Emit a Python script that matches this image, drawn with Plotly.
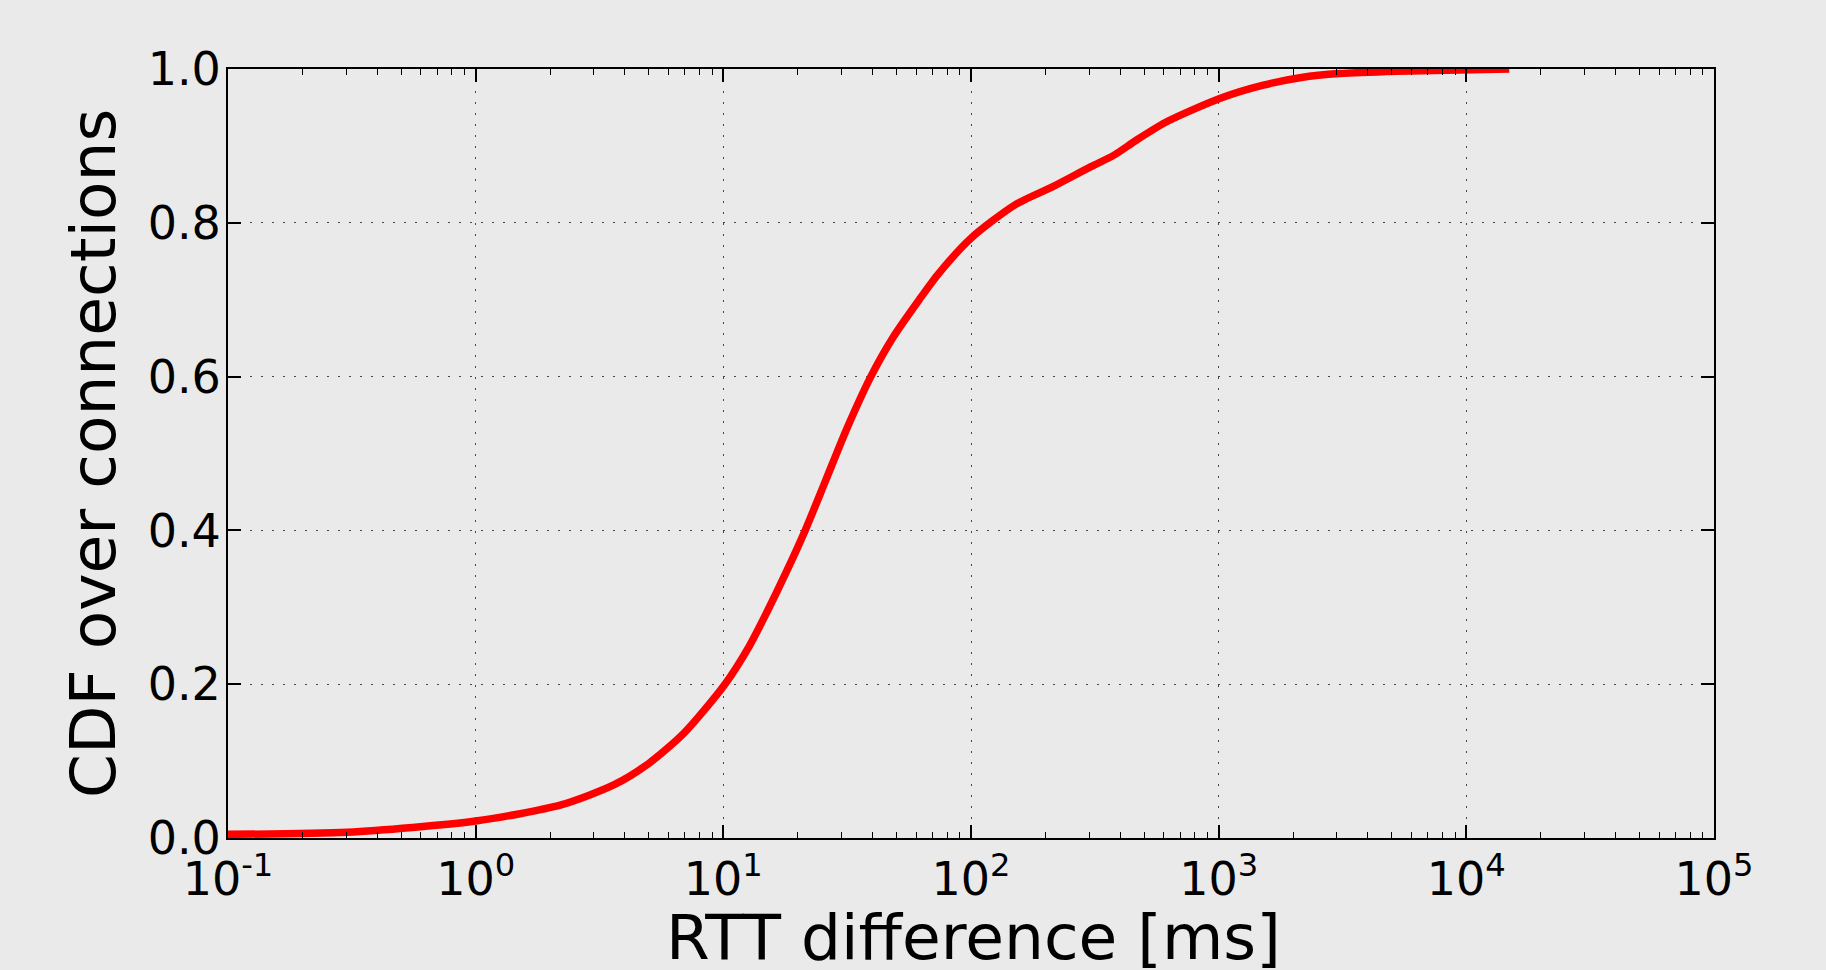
import plotly.graph_objects as go

# Data (CDF of RTT difference)
rtt_ms = [0.1, 0.303, 1.0, 2.21, 3.61, 5.0, 6.92, 10.1, 12.7, 14.9,
          17.9, 21.4, 25.9, 31.3, 39.4, 48.2, 61.8, 73.6, 100, 150, 214, 305,
          378, 468, 622, 1016, 1514, 2158, 3083, 5248, 14900]
cdf = [0.0048, 0.0074, 0.022, 0.043, 0.069, 0.097, 0.136, 0.199,
       0.249, 0.292, 0.345, 0.40, 0.465, 0.53, 0.60, 0.65, 0.70, 0.733, 0.780,
       0.823, 0.847, 0.873, 0.888, 0.908, 0.932, 0.962, 0.979, 0.989, 0.994,
       0.997, 1.0]

x_tickvals = [0.1, 1, 10, 100, 1000, 10000, 100000]
x_ticktext = ["10<sup>-1</sup>", "10<sup>0</sup>", "10<sup>1</sup>", "10<sup>2</sup>",
              "10<sup>3</sup>", "10<sup>4</sup>", "10<sup>5</sup>"]
y_tickvals = [0.0, 0.2, 0.4, 0.6, 0.8, 1.0]
y_ticktext = ["0.0", "0.2", "0.4", "0.6", "0.8", "1.0"]
x_title = "RTT difference [ms]"
y_title = "CDF over connections"

x_minor = [m * 10 ** e for e in range(-1, 5) for m in range(2, 10)]

BG = "#eaeaea"
FONT = "DejaVu Sans"

fig = go.Figure()
fig.add_trace(go.Scatter(
    x=rtt_ms, y=cdf, mode="lines",
    line=dict(color="#ff0000", width=7.5, shape="spline", smoothing=0.7),
    showlegend=False, hoverinfo="skip",
))

grid_style = dict(showgrid=True, gridcolor="rgba(0,0,0,0.7)", gridwidth=1, griddash="2px,9px")

fig.update_xaxes(
    type="log", range=[-1, 5], automargin=False,
    tickmode="array", tickvals=x_tickvals, ticktext=x_ticktext,
    ticks="inside", ticklen=13, tickwidth=1.5, tickcolor="black",
    showline=True, linecolor="black", linewidth=2, mirror="allticks",
    tickfont=dict(family=FONT, size=46, color="black"),
    minor=dict(tickmode="array", tickvals=x_minor, ticks="inside", ticklen=6,
               tickwidth=1, tickcolor="black", showgrid=False),
    zeroline=False,
    **grid_style,
)
fig.update_yaxes(
    range=[0, 1], automargin=False,
    tickmode="array", tickvals=y_tickvals, ticktext=y_ticktext,
    ticks="inside", ticklen=13, tickwidth=1.5, tickcolor="black",
    showline=True, linecolor="black", linewidth=2, mirror="allticks",
    tickfont=dict(family=FONT, size=46, color="black"),
    ticklabelstandoff=-4,
    zeroline=False,
    **grid_style,
)

title_font = dict(family=FONT, size=63, color="black")
fig.add_annotation(text=x_title, xref="paper", yref="paper", x=0.502, y=-0.129,
                   xanchor="center", yanchor="middle", showarrow=False, font=title_font)
fig.add_annotation(text=y_title, xref="paper", yref="paper", x=-0.0905, y=0.5,
                   xanchor="center", yanchor="middle", showarrow=False, textangle=-90,
                   font=title_font)

fig.update_layout(
    width=1826, height=970,
    margin=dict(l=228, r=112, t=69, b=132),
    paper_bgcolor=BG, plot_bgcolor=BG,
    font=dict(family=FONT, color="black"),
)

fig.write_html("out.html",
               config={"displayModeBar": False},
               post_script="document.body.style.margin='0';document.body.style.background='%s';" % BG)
